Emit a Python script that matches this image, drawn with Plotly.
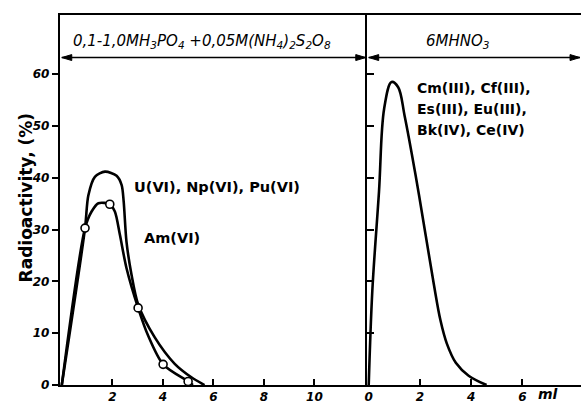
import plotly.graph_objects as go

W, H = 582, 404
H_EFF = 396  # measured vertical mapping of the rendered page

# ---- data ----
u_x = [0, 0.92, 1.05, 1.31, 1.71, 2.17, 2.37, 2.45, 2.56, 2.76, 3.02, 3.68, 4.47, 5.13, 5.65]
u_y = [0, 30.3, 36.6, 40.2, 41.2, 40.4, 38.6, 35.4, 27.7, 21.3, 15.6, 9.2, 4.1, 1.5, 0]

am_x = [0, 0.92, 1.18, 1.45, 1.90, 2.10, 2.30, 2.56, 3.02, 3.42, 4.01, 5.00, 5.19]
am_y = [0, 30.3, 33.5, 35.1, 34.9, 33.5, 29.0, 22.6, 14.9, 9.5, 4.0, 0.7, 0]

am_pts_x = [0.92, 1.90, 3.02, 4.01, 5.00]
am_pts_y = [30.3, 34.9, 14.9, 4.0, 0.7]

r_x = [0, 0.14, 0.40, 0.60, 0.89, 1.15, 1.40, 1.83, 2.22, 2.54, 2.80, 3.05, 3.40, 3.90, 4.60]
r_y = [0, 18.2, 37.3, 53.3, 58.5, 57.5, 52.0, 40.5, 29.0, 19.5, 12.5, 8.0, 4.3, 1.8, 0]

left_ticks = [2, 4, 6, 8, 10]
right_ticks = [0, 2, 4, 6]
y_ticks = [0, 10, 20, 30, 40, 50, 60]

right_label_lines = ["Cm(III), Cf(III),", "Es(III), Eu(III),", "Bk(IV), Ce(IV)"]

FONT = "DejaVu Sans, Noto Sans, sans-serif"

def px(xp):
    return xp / W

def py(yp):
    return 1 - yp / H_EFF

# pixel geometry
x_frame_l, x_div, x_right = 58, 366, 581
y_axis, y_top, y_arrow = 388, 15, 58
lx0, lscale = 60, 25.35
rx0, rscale = 368, 25.7
yscale = 5.22

fig = go.Figure()
line = dict(color="black", width=2.6)
fig.add_trace(go.Scatter(x=u_x, y=u_y, mode="lines", line=dict(shape="spline", smoothing=0.8, **line),
                         xaxis="x", yaxis="y", hoverinfo="skip"))
fig.add_trace(go.Scatter(x=am_x, y=am_y, mode="lines", line=dict(shape="spline", smoothing=0.8, **line),
                         xaxis="x", yaxis="y", hoverinfo="skip"))
fig.add_trace(go.Scatter(x=am_pts_x, y=am_pts_y, mode="markers",
                         marker=dict(size=8, color="white", line=dict(color="black", width=1.6)),
                         xaxis="x", yaxis="y", hoverinfo="skip"))
fig.add_trace(go.Scatter(x=r_x, y=r_y, mode="lines", line=dict(shape="spline", smoothing=1.0, **line),
                         xaxis="x2", yaxis="y2", hoverinfo="skip"))

tickfont = dict(family=FONT, size=12, color="black", weight="bold", style="italic")

xr_l = [(x_frame_l - lx0) / lscale, (x_div - lx0) / lscale]
xr_r = [(x_div - rx0) / rscale, (x_right - rx0) / rscale]
yr = [0, (y_axis - y_top) / yscale]

common_x = dict(showgrid=False, zeroline=False, showline=True, linecolor="black", linewidth=2,
                mirror=True, ticks="inside", ticklen=6, tickwidth=1.5, tickcolor="black",
                tickfont=tickfont)
fig.update_layout(
    width=W, height=H, autosize=False,
    margin=dict(l=0, r=0, t=0, b=0),
    paper_bgcolor="white", plot_bgcolor="white",
    showlegend=False,
    xaxis=dict(domain=[px(x_frame_l), px(x_div)], range=xr_l, tickvals=left_ticks,
               anchor="y", **common_x),
    xaxis2=dict(domain=[px(x_div), px(x_right)], range=xr_r, tickvals=right_ticks,
                anchor="y2", **common_x),
    yaxis=dict(domain=[py(y_axis), py(y_top)], range=yr, tickvals=y_ticks, showgrid=False,
               zeroline=False, showline=True, linecolor="black", linewidth=2,
               ticks="outside", ticklen=6, tickwidth=1.5, tickcolor="black",
               tickfont=tickfont, anchor="x"),
    yaxis2=dict(domain=[py(y_axis), py(y_top)], range=yr, tickvals=y_ticks[1:], showgrid=False,
                zeroline=False, showline=True, linecolor="black", linewidth=2,
                ticks="inside", ticklen=7, tickwidth=1.5, tickcolor="black",
                showticklabels=False, anchor="x2"),
)

# double arrows under the header, drawn as shapes
for xa, xb in [(x_frame_l + 2, x_div - 1), (x_div + 2, x_right - 1)]:
    fig.add_shape(type="line", xref="paper", yref="paper",
                  x0=px(xa), x1=px(xb), y0=py(y_arrow), y1=py(y_arrow),
                  line=dict(color="black", width=1.5))
    left_head = f"M {px(xa)} {py(y_arrow)} L {px(xa + 10)} {py(y_arrow - 3)} L {px(xa + 10)} {py(y_arrow + 3)} Z"
    right_head = f"M {px(xb)} {py(y_arrow)} L {px(xb - 10)} {py(y_arrow - 3)} L {px(xb - 10)} {py(y_arrow + 3)} Z"
    for p in (left_head, right_head):
        fig.add_shape(type="path", xref="paper", yref="paper", path=p,
                      fillcolor="black", line=dict(color="black", width=1))

def note(x, y, text, font, xanchor="center", textangle=0):
    fig.add_annotation(x=px(x), y=py(y), xref="paper", yref="paper", showarrow=False,
                       xanchor=xanchor, yanchor="middle", textangle=textangle,
                       text=text, font=font)

hdr_font = dict(family=FONT, size=15, color="black", style="italic")
note(201, 42, "0,1-1,0MH<sub>3</sub>PO<sub>4</sub> +0,05M(NH<sub>4</sub>)<sub>2</sub>S<sub>2</sub>O<sub>8</sub>", hdr_font)
note(457, 42, "6MHNO<sub>3</sub>", hdr_font)

ann_font = dict(family=FONT, size=14.5, color="black", weight="bold")
note(130, 188, "U(VI), Np(VI), Pu(VI)", ann_font, xanchor="left")
note(140, 240, "Am(VI)", ann_font, xanchor="left")
for yy, t in zip([89, 110, 131], right_label_lines):
    note(414, yy, t, dict(family=FONT, size=14, color="black", weight="bold"), xanchor="left")

note(25, 199, "Radioactivity, (%)", dict(family=FONT, size=17, color="black", weight="bold"),
     textangle=-90)
note(548, 397, "ml", dict(family=FONT, size=14, color="black", weight="bold", style="italic"))

fig.write_html("out.html", config={"displayModeBar": False, "responsive": False},
               post_script="document.body.style.margin='0';")
